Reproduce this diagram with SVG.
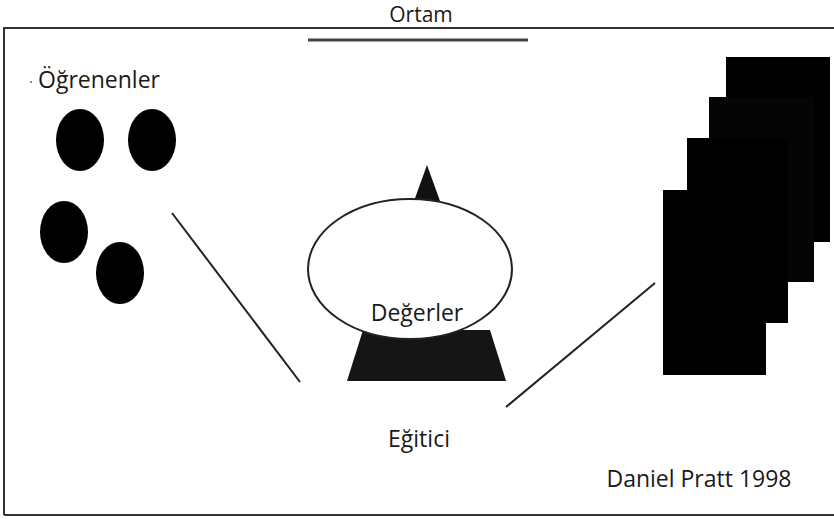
<svg xmlns="http://www.w3.org/2000/svg" width="834" height="519" viewBox="0 0 834 519">
<style>
.t{font-family:"Open Sans","Noto Sans","Liberation Sans",sans-serif;font-size:23px;fill:#1a1a1a}
.blob{fill:#000}
.ln{stroke:#222;stroke-width:2;fill:none}
</style>
<rect width="834" height="519" fill="#fff"/>
<g id="frame">
<path d="M4,515 V28 H834" fill="none" stroke="#333" stroke-width="2"/>
<path d="M4,515 H834" fill="none" stroke="#333" stroke-width="2"/>
</g>
<g id="ortam">
<text class="t" x="421" y="22" text-anchor="middle" style="font-size:21px">Ortam</text>
<line x1="308" y1="40" x2="528" y2="40" stroke="#444" stroke-width="3"/>
</g>
<g id="ogrenenler">
<text class="t" x="38" y="88">Öğrenenler</text>
<circle cx="31" cy="82" r="1" fill="#666"/>
<ellipse class="blob" cx="80" cy="140" rx="24" ry="31"/>
<ellipse class="blob" cx="152" cy="140" rx="24" ry="31"/>
<ellipse class="blob" cx="64" cy="232" rx="24" ry="31"/>
<ellipse class="blob" cx="120" cy="273" rx="24" ry="31"/>
</g>
<g id="connectors">
<line class="ln" x1="172" y1="213" x2="300" y2="382"/>
<line class="ln" x1="506" y1="407" x2="655" y2="283"/>
</g>
<g id="degerler">
<polygon points="427,165 414,201 440,201" fill="#111"/>
<polygon points="363,330 490,330 506,381 347,381" fill="#151515"/>
<ellipse cx="410" cy="269" rx="102" ry="70" fill="#fff" stroke="#222" stroke-width="2"/>
<text class="t" x="417" y="321" text-anchor="middle">Değerler</text>
</g>
<g id="pages">
<rect x="726" y="57" width="104" height="185" fill="#000"/>
<rect x="709" y="97" width="105" height="185" fill="#050505"/>
<rect x="687" y="138" width="101" height="185" fill="#000"/>
<rect x="663" y="190" width="103" height="185" fill="#000"/>
</g>
<g id="egitici">
<text class="t" x="419" y="447" text-anchor="middle">Eğitici</text>
</g>
<g id="credit">
<text class="t" x="699" y="487" text-anchor="middle">Daniel Pratt 1998</text>
</g>
</svg>
